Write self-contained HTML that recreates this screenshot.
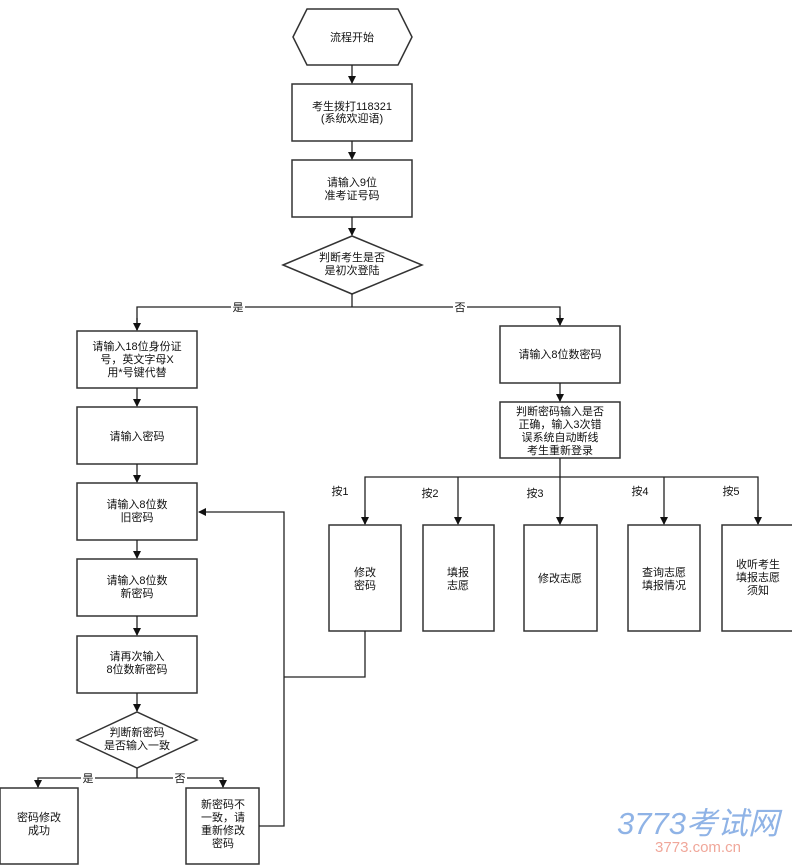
<!DOCTYPE html>
<html><head><meta charset="utf-8"><style>
html,body{margin:0;padding:0;background:#fff;width:792px;height:868px;overflow:hidden}
svg text{font-family:"Liberation Sans","Noto Sans CJK SC",sans-serif;font-size:11px;fill:#111;text-anchor:middle}
</style></head><body>
<svg width="792" height="868" viewBox="0 0 792 868" xmlns="http://www.w3.org/2000/svg">
<defs><marker id="a" markerWidth="8" markerHeight="8" refX="7" refY="4" orient="auto" markerUnits="userSpaceOnUse"><path d="M0,0 L8,4 L0,8 z" fill="#111"/></marker></defs>
<g fill="#fff" stroke="#333" stroke-width="1.5">
<polygon points="293,37 307,9 398,9 412,37 398,65 307,65"/>
<rect x="292" y="84" width="120" height="57"/>
<rect x="292" y="160" width="120" height="57"/>
<polygon points="283,265 352,236 422,265 352,294"/>
<rect x="77" y="331" width="120" height="57"/>
<rect x="500" y="326" width="120" height="57"/>
<rect x="500" y="402" width="120" height="56"/>
<rect x="329" y="525" width="72" height="106"/>
<rect x="423" y="525" width="71" height="106"/>
<rect x="524" y="525" width="73" height="106"/>
<rect x="628" y="525" width="72" height="106"/>
<rect x="722" y="525" width="72" height="106"/>
<rect x="77" y="407" width="120" height="57"/>
<rect x="77" y="483" width="120" height="57"/>
<rect x="77" y="559" width="120" height="57"/>
<rect x="77" y="636" width="120" height="57"/>
<polygon points="77,740 137,712 197,740 137,768"/>
<rect x="0" y="788" width="78" height="76"/>
<rect x="186" y="788" width="73" height="76"/>
</g>
<g stroke="#222" stroke-width="1.3" fill="none">
<line x1="352" y1="65" x2="352" y2="83" marker-end="url(#a)"/>
<line x1="352" y1="141" x2="352" y2="159" marker-end="url(#a)"/>
<line x1="352" y1="217" x2="352" y2="235" marker-end="url(#a)"/>
<polyline points="352,294 352,307"/>
<polyline points="137,330 137,307 560,307 560,325" />
<line x1="137" y1="318" x2="137" y2="330" marker-end="url(#a)"/>
<line x1="560" y1="315" x2="560" y2="325" marker-end="url(#a)"/>
<line x1="560" y1="383" x2="560" y2="401" marker-end="url(#a)"/>
<polyline points="560,458 560,477"/>
<polyline points="365,524 365,477 758,477 758,524"/>
<line x1="365" y1="510" x2="365" y2="524" marker-end="url(#a)"/>
<line x1="458" y1="477" x2="458" y2="524" marker-end="url(#a)"/>
<line x1="560" y1="477" x2="560" y2="524" marker-end="url(#a)"/>
<line x1="664" y1="477" x2="664" y2="524" marker-end="url(#a)"/>
<line x1="758" y1="510" x2="758" y2="524" marker-end="url(#a)"/>
<line x1="137" y1="388" x2="137" y2="406" marker-end="url(#a)"/>
<line x1="137" y1="464" x2="137" y2="482" marker-end="url(#a)"/>
<line x1="137" y1="540" x2="137" y2="558" marker-end="url(#a)"/>
<line x1="137" y1="616" x2="137" y2="635" marker-end="url(#a)"/>
<line x1="137" y1="693" x2="137" y2="711" marker-end="url(#a)"/>
<polyline points="137,768 137,778"/>
<polyline points="38,787 38,778 223,778 223,787"/>
<line x1="38" y1="780" x2="38" y2="787" marker-end="url(#a)"/>
<line x1="223" y1="780" x2="223" y2="787" marker-end="url(#a)"/>
<polyline points="259,826 284,826 284,512 199,512" marker-end="url(#a)"/>
<polyline points="365,631 365,677 284,677"/>
</g>
<g fill="#fff"><rect x="231" y="300" width="14" height="14"/><rect x="453" y="300" width="14" height="14"/><rect x="81" y="772" width="14" height="13"/><rect x="173" y="772" width="14" height="13"/></g>
<text x="352" y="41">流程开始</text>
<text x="352" y="110">考生拨打118321</text><text x="352" y="122">(系统欢迎语)</text>
<text x="352" y="186">请输入9位</text><text x="352" y="199">准考证号码</text>
<text x="352" y="261">判断考生是否</text><text x="352" y="274">是初次登陆</text>
<text x="238" y="311">是</text><text x="460" y="311">否</text>
<text x="137" y="350">请输入18位身份证</text><text x="137" y="363">号，英文字母X</text><text x="137" y="376">用*号键代替</text>
<text x="560" y="358">请输入8位数密码</text>
<text x="560" y="415">判断密码输入是否</text><text x="560" y="428">正确，输入3次错</text><text x="560" y="441">误系统自动断线</text><text x="560" y="454">考生重新登录</text>
<text x="340" y="495">按1</text><text x="430" y="497">按2</text><text x="535" y="497">按3</text><text x="640" y="495">按4</text><text x="731" y="495">按5</text>
<text x="365" y="576">修改</text><text x="365" y="589">密码</text>
<text x="458" y="576">填报</text><text x="458" y="589">志愿</text>
<text x="560" y="582">修改志愿</text>
<text x="664" y="576">查询志愿</text><text x="664" y="589">填报情况</text>
<text x="758" y="568">收听考生</text><text x="758" y="581">填报志愿</text><text x="758" y="594">须知</text>
<text x="137" y="440">请输入密码</text>
<text x="137" y="508">请输入8位数</text><text x="137" y="521">旧密码</text>
<text x="137" y="584">请输入8位数</text><text x="137" y="597">新密码</text>
<text x="137" y="660">请再次输入</text><text x="137" y="673">8位数新密码</text>
<text x="137" y="736">判断新密码</text><text x="137" y="749">是否输入一致</text>
<text x="88" y="782">是</text><text x="180" y="782">否</text>
<text x="39" y="821">密码修改</text><text x="39" y="834">成功</text>
<text x="223" y="808">新密码不</text><text x="223" y="821">一致，请</text><text x="223" y="834">重新修改</text><text x="223" y="847">密码</text>
<text x="698" y="834" style="font-size:31px;font-style:italic;fill:#8fb3e6">3773考试网</text>
<text x="698" y="852" style="font-size:15px;fill:#f0a79a">3773.com.cn</text>
</svg>
</body></html>
